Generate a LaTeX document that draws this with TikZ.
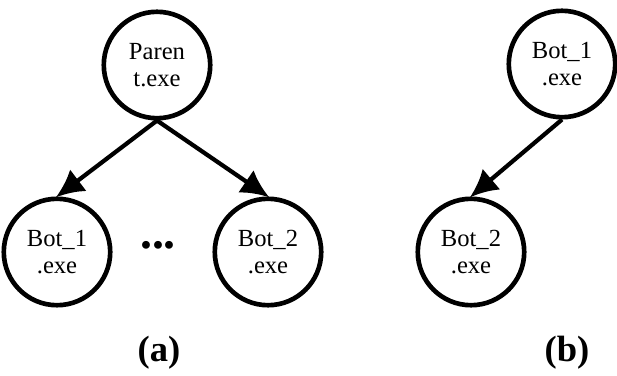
\documentclass[tikz,border=0pt]{standalone}
\usepackage{fontspec}
\setmainfont{Liberation Serif}
\usetikzlibrary{arrows.meta}

\begin{document}
\begin{tikzpicture}[x=0.025cm,y=0.025cm,
	proc/.style={draw,circle,line width=3.3pt,minimum size=2.66cm,inner sep=0pt,align=center,font=\fontsize{17.5}{19.5}\selectfont},
	spawn/.style={-{Latex[length=0.7cm,width=0.68cm]},line width=3pt,shorten >=-1pt},
	caption/.style={font=\fontsize{26}{30}\selectfont\bfseries}]
	\useasboundingbox (0,0) rectangle (617,375);
	\node[proc] at (157,310) (parent) {Paren\\t.exe};
	\node[proc] at (57,123) (bota1) {Bot\_1\\.exe};
	\node[proc] at (268,123) (bota2) {Bot\_2\\.exe};
	\node[font=\fontsize{34}{34}\selectfont\bfseries] at (158,130) (dots) {...};
	\node[proc] at (562,311) (botb1) {Bot\_1\\.exe};
	\node[proc] at (471,123) (botb2) {Bot\_2\\.exe};
	\node[caption] at (159,22) (capa) {(a)};
	\node[caption] at (567,22) (capb) {(b)};
	\draw[spawn] (parent.south) to (bota1.north);
	\draw[spawn] (parent.south) to (bota2.north);
	\draw[spawn] (botb1.south) to (botb2.north);
\end{tikzpicture}
\end{document}
